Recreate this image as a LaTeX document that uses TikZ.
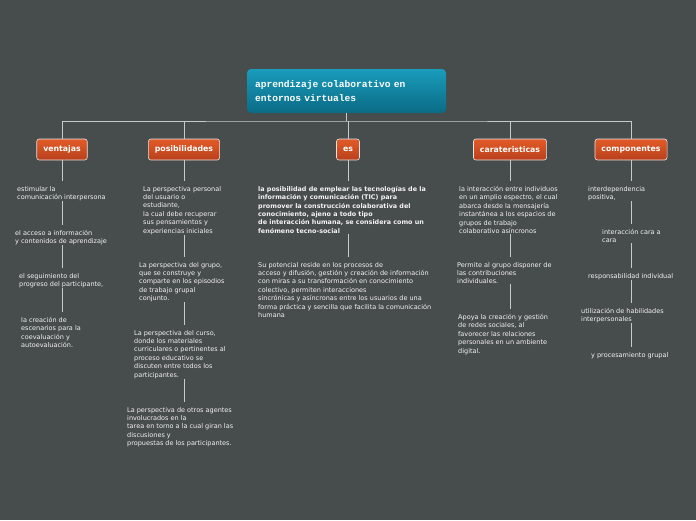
\documentclass[tikz,border=0pt]{standalone}
\usepackage{fontspec}
\setmainfont{DejaVu Sans}
\newfontfamily\monof{Liberation Mono}[BoldFont={Liberation Mono Bold}]
\begin{document}
\begin{tikzpicture}[x=1pt,y=-1pt,
  cat/.style={draw=white!80!gray,line width=0.6pt,rounded corners=2.5pt,top color=catT,bottom color=catB,text=white,font=\bfseries\fontsize{7.8}{9}\selectfont,minimum height=21pt,inner xsep=6.5pt},
  leaf/.style={anchor=north west,inner sep=0pt,align=left,text=white!92!gray,font=\fontsize{6.5}{8.4}\selectfont},
  conn/.style={draw=lineC,line width=0.8pt}]
\definecolor{bg}{HTML}{474C4C}
\definecolor{catT}{HTML}{E25B28}
\definecolor{catB}{HTML}{B8401C}
\definecolor{rootT}{HTML}{1A9CBC}
\definecolor{rootB}{HTML}{0A6B85}
\definecolor{lineC}{HTML}{C8CACA}
\fill[bg] (0,0) rectangle (696,520);
\useasboundingbox (0,0) rectangle (696,520);
\node[rounded corners=4pt,top color=rootT,bottom color=rootB,minimum width=199pt,minimum height=44pt,text width=183pt,align=left,text=white,font={\monof\bfseries\fontsize{9.6}{14.5}\selectfont}] (root) at (346.5,91) {aprendizaje colaborativo en\\entornos virtuales};
\node[cat] (c1) at (62,149.5) {ventajas};
\node[cat] (c2) at (184,149.5) {posibilidades};
\node[cat] (c3) at (348,149.5) {es};
\node[cat] (c4) at (510,149.5) {carateristicas};
\node[cat] (c5) at (631,149.5) {componentes};
\coordinate (bus) at (346.5,121);
\draw[conn] (root.south) -- (bus);
\draw[conn] (c1.north) |- (bus) -| (c5.north);
\foreach \c in {c2,c3,c4} \draw[conn] (\c.north) -- (\c.north |- bus);
% ventajas
\node[leaf] (v1) at (17,186) {estimular la\\comunicación interpersona};
\node[leaf] (v2) at (15,230) {el acceso a información\\y contenidos de aprendizaje};
\node[leaf] (v3) at (19,273) {el seguimiento del\\progreso del participante,};
\node[leaf] (v4) at (21,317) {la creación de\\escenarios para la\\coevaluación y\\autoevaluación.};
% posibilidades
\node[leaf] (p1) at (143,186) {La perspectiva personal\\del usuario o\\estudiante,\\la cual debe recuperar\\sus pensamientos y\\experiencias iniciales};
\node[leaf] (p2) at (139,262) {La perspectiva del grupo,\\que se construye y\\comparte en los episodios\\de trabajo grupal\\conjunto.};
\node[leaf] (p3) at (134,330) {La perspectiva del curso,\\donde los materiales\\curriculares o pertinentes al\\proceso educativo se\\discuten entre todos los\\participantes.};
\node[leaf] (p4) at (127,407) {La perspectiva de otros agentes\\involucrados en la\\tarea en torno a la cual giran las\\discusiones y\\propuestas de los participantes.};
% es
\node[leaf,font=\bfseries\fontsize{6.4}{8.4}\selectfont] (e1) at (258,186) {la posibilidad de emplear las tecnologías de la\\información y comunicación (TIC) para\\promover la construcción colaborativa del\\conocimiento, ajeno a todo tipo\\de interacción humana, se considera como un\\fenómeno tecno-social};
\node[leaf] (e2) at (258,262) {Su potencial reside en los procesos de\\acceso y difusión, gestión y creación de información\\con miras a su transformación en conocimiento\\colectivo, permiten interacciones\\sincrónicas y asíncronas entre los usuarios de una\\forma práctica y sencilla que facilita la comunicación\\humana};
% caracteristicas
\node[leaf] (k1) at (459,186) {la interacción entre individuos\\en un amplio espectro, el cual\\abarca desde la mensajería\\instantánea a los espacios de\\grupos de trabajo\\colaborativo asíncronos};
\node[leaf] (k2) at (457,262) {Permite al grupo disponer de\\las contribuciones\\individuales.};
\node[leaf] (k3) at (458,314) {Apoya la creación y gestión\\de redes sociales, al\\favorecer las relaciones\\personales en un ambiente\\digital.};
% componentes
\node[leaf] (m1) at (588,186) {interdependencia\\positiva,};
\node[leaf] (m2) at (602,229) {interacción cara a\\cara};
\node[leaf] (m3) at (588,273) {responsabilidad individual};
\node[leaf] (m4) at (581,308) {utilización de habilidades\\interpersonales};
\node[leaf] (m5) at (591,352) {y procesamiento grupal};
% links
\foreach \cc/\list in {c1/{v1,v2,v3,v4},c2/{p1,p2,p3,p4},c3/{e1,e2},c4/{k1,k2,k3},c5/{m1,m2,m3,m4,m5}}{
  \def\prev{\cc}
  \foreach \n in \list {
    \draw[conn,shorten >=5pt,shorten <=0pt] (\prev.south -| \cc) -- (\n.north -| \cc);
    \xdef\prev{\n}
  }
}
\end{tikzpicture}
\end{document}
